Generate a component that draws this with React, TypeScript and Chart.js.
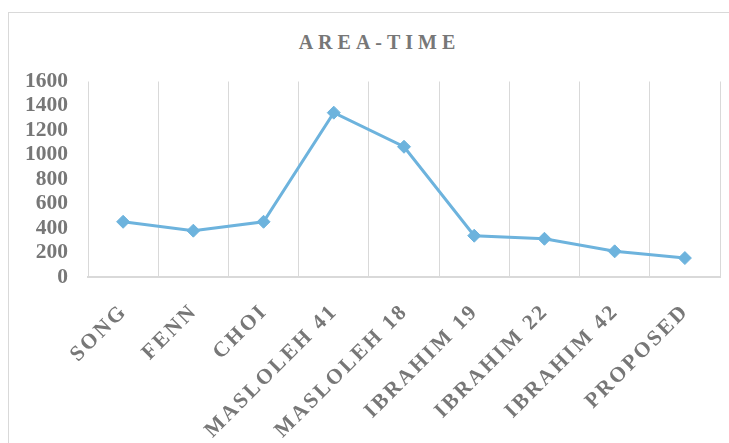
import React, { useEffect, useRef } from "react";
import { Chart, registerables, CategoryScale } from "chart.js";

Chart.register(...registerables);

class SpacedCategoryScale extends CategoryScale {
  static id = "spacedCategory";
  static defaults = CategoryScale.defaults;
  drawLabels(area: any) {
    const ctx = (this as any).ctx as CanvasRenderingContext2D;
    ctx.save();
    (ctx as any).letterSpacing = "2.5px";
    super.drawLabels(area);
    ctx.restore();
  }
}
Chart.register(SpacedCategoryScale);

const categories = [
  "SONG",
  "FENN",
  "CHOI",
  "MASLOLEH 41",
  "MASLOLEH 18",
  "IBRAHIM 19",
  "IBRAHIM 22",
  "IBRAHIM 42",
  "PROPOSED",
];
const areaTime = [452, 379, 452, 1345, 1066, 338, 313, 210, 155];
const yMin = 0;
const yMax = 1600;
const yStep = 200;
const titleText = "AREA-TIME";

const TEXT = "#777777";
const LINE = "#6db3dd";
const GRID = "#d9d9d9";
const FONT = "'Liberation Serif', 'Times New Roman', serif";

export default function App() {
  const ref = useRef<HTMLCanvasElement>(null);
  useEffect(() => {
    const canvas = ref.current!;
    const chart = new Chart(canvas, {
      type: "line",
      data: {
        labels: categories,
        datasets: [
          {
            data: areaTime,
            borderColor: LINE,
            backgroundColor: LINE,
            borderWidth: 3,
            pointStyle: "rectRot",
            pointRadius: 6.5,
            pointBackgroundColor: LINE,
            pointBorderColor: LINE,
            pointBorderWidth: 1,
            tension: 0,
          },
        ],
      },
      options: {
        responsive: false,
        animation: false,
        devicePixelRatio: 1,
        layout: { padding: { left: 0, top: 73.5, right: 26, bottom: 0 } },
        plugins: {
          legend: { display: false },
          title: { display: false },
          tooltip: { enabled: false },
        },
        scales: {
          x: {
            type: "spacedCategory" as any,
            offset: true,
            grid: { offset: true, color: GRID, lineWidth: 1, drawTicks: false },
            border: { display: true, color: GRID, width: 2 },
            ticks: {
              autoSkip: false,
              minRotation: 45,
              maxRotation: 45,
              padding: 22,
              labelOffset: 1,
              color: TEXT,
              font: { family: FONT, size: 21.5, weight: "bold" },
            },
            afterFit: (s: any) => {
              s.height = 166;
            },
          },
          y: {
            min: yMin,
            max: yMax,
            grid: { display: false, drawTicks: false },
            border: { display: false },
            ticks: {
              stepSize: yStep,
              autoSkip: false,
              padding: 20,
              color: TEXT,
              font: { family: FONT, size: 21.5, weight: "bold" },
              callback: (v: any) => String(v),
            },
            afterFit: (s: any) => {
              s.width = 80;
            },
          },
        },
      },
    });
    return () => chart.destroy();
  }, []);

  return (
    <div
      style={{
        position: "fixed",
        left: 0,
        top: 0,
        width: 729,
        height: 443,
        overflow: "hidden",
        background: "#fff",
      }}
    >
      <div
        style={{
          position: "absolute",
          left: 8,
          top: 12,
          width: 760,
          height: 470,
          border: `1px solid ${GRID}`,
          boxSizing: "border-box",
        }}
      />
      <div
        style={{
          position: "absolute",
          left: 8,
          top: 31.5,
          width: 738,
          textAlign: "center",
          fontFamily: FONT,
          fontWeight: "bold",
          fontSize: 20,
          lineHeight: "20px",
          letterSpacing: "5px",
          paddingLeft: 5,
          boxSizing: "border-box",
          color: TEXT,
        }}
      >
        {titleText}
      </div>
      <canvas
        ref={ref}
        width={738}
        height={435}
        style={{ position: "absolute", left: 8, top: 8, width: 738, height: 435 }}
      />
    </div>
  );
}
